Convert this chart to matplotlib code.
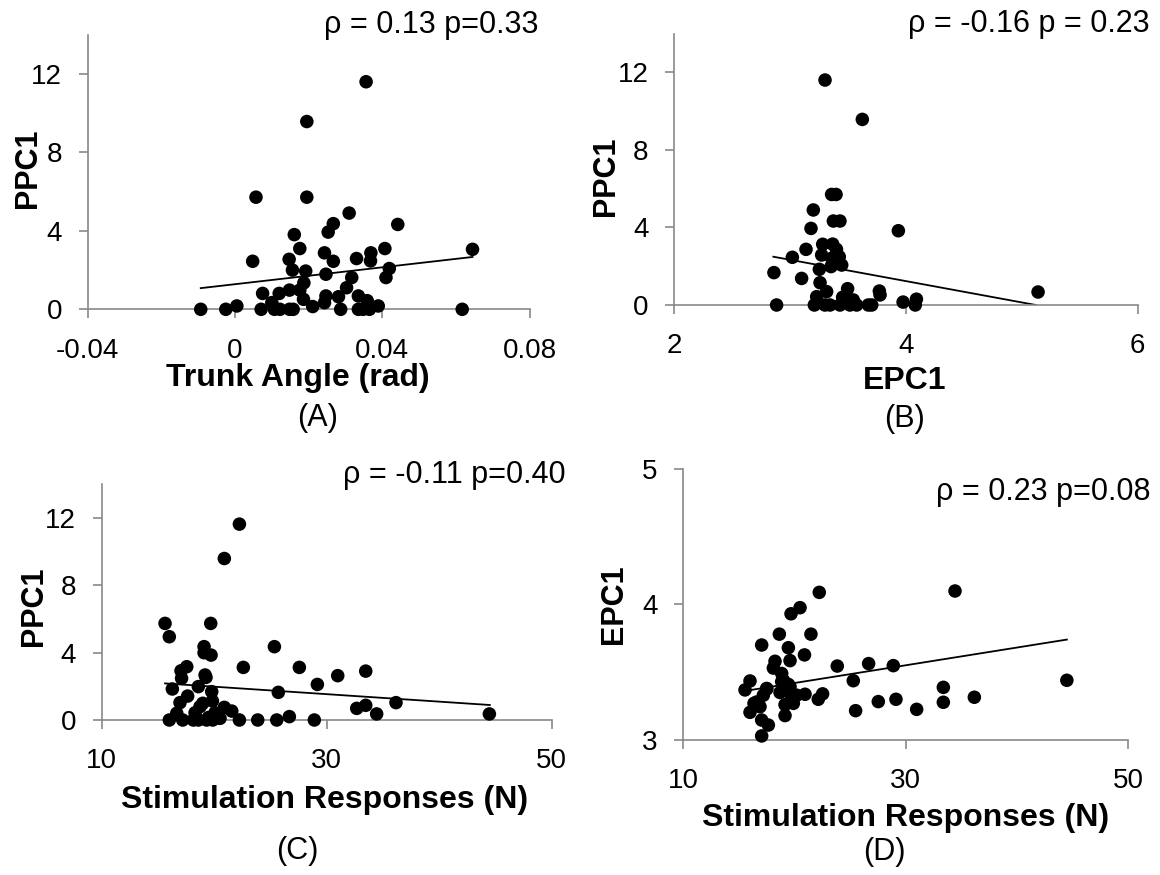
import numpy as np
import matplotlib
matplotlib.use("Agg")
import matplotlib.pyplot as plt

plt.rcParams['font.family'] = ['Liberation Sans', 'DejaVu Sans']

# ---- DATA ----
# (A) Trunk angle vs PPC1
trunk_angle = [-0.0093, -0.0025, 0.0005, 0.0057, 0.0048, 0.0071, 0.0075, 0.0100, 0.0107, 0.0120,
               0.0122, 0.0147, 0.0156, 0.0161, 0.0148, 0.0158, 0.0148, 0.0176, 0.0176, 0.0187,
               0.0192, 0.0186, 0.0195, 0.0195, 0.0211, 0.0243, 0.0247, 0.0243, 0.0247, 0.0253,
               0.0267, 0.0267, 0.0281, 0.0287, 0.0303, 0.0317, 0.0310, 0.0330, 0.0335, 0.0335,
               0.0356, 0.0348, 0.0359, 0.0365, 0.0368, 0.0369, 0.0389, 0.0407, 0.0410, 0.0419,
               0.0442, 0.0617, 0.0645]
ppc1_a = [0, 0, 0.17, 5.72, 2.45, 0, 0.81, 0.34, 0, 0.81,
          0, 2.55, 2.0, 3.81, 0, 0, 0.98, 3.1, 0.98, 1.35,
          1.95, 0.51, 5.72, 9.58, 0.14, 2.88, 1.79, 0.34, 0.68, 3.94,
          4.37, 2.45, 0.64, 0, 1.1, 1.62, 4.91, 2.59, 0.68, 0,
          11.61, 0, 0.44, 0, 2.47, 2.88, 0.17, 3.1, 1.62, 2.08,
          4.33, 0, 3.06]
trend_a_x = [-0.0093, 0.0645]
trend_a_y = [1.08, 2.67]

# (B) EPC1 vs PPC1
epc1_b = [2.883, 2.86, 3.019, 3.099, 3.137, 3.18, 3.2, 3.209, 3.229, 3.258,
          3.252, 3.272, 3.281, 3.301, 3.30, 3.315, 3.344, 3.353, 3.358, 3.367,
          3.358, 3.396, 3.373, 3.43, 3.40, 3.424, 3.445, 3.43, 3.453, 3.496,
          3.516, 3.545, 3.574, 3.623, 3.675, 3.704, 3.77, 3.776, 3.934, 3.975,
          4.09, 4.08, 5.14]
ppc1_b = [0, 1.67, 2.46, 1.37, 2.87, 3.95, 4.9, 0, 0.43, 1.15,
          1.84, 2.58, 3.13, 11.6, 0, 0.69, 0, 1.98, 2.41, 3.14,
          5.7, 5.7, 4.33, 4.33, 2.87, 2.49, 2.06, 0, 0.4, 0.84,
          0, 0.26, 0, 9.57, 0, 0, 0.72, 0.52, 3.83, 0.15,
          0.3, 0, 0.67]
trend_b_x = [2.855, 5.12]
trend_b_y = [2.49, 0.0]

# (C) Stimulation responses vs PPC1
stim_c = [15.63, 16.01, 16.01, 16.28, 16.67, 16.96, 17.2, 17.05, 17.1, 17.56,
          17.64, 18.15, 18.3, 18.59, 18.74, 18.98, 19.1, 19.1, 19.19, 19.27,
          19.33, 19.69, 19.72, 19.78, 19.84, 19.87, 20.07, 20.52, 20.9, 20.9,
          21.56, 22.24, 22.24, 22.59, 23.87, 25.35, 25.56, 25.7, 26.68, 27.57,
          28.9, 29.17, 30.98, 32.67, 33.47, 33.47, 34.44, 36.16, 44.46, 18.6, 19.5]
ppc1_c = [5.73, 4.94, 0, 1.84, 0.4, 1.03, 0, 2.92, 2.47, 3.16,
          1.42, 0, 0.43, 1.98, 0.79, 0.99, 4.35, 3.99, 2.67, 2.53,
          0, 5.73, 3.85, 1.68, 1.13, 0, 0.43, 0.1, 0.75, 9.58,
          0.53, 11.62, 0, 3.12, 0, 4.35, 0, 1.64, 0.2, 3.12,
          0, 2.11, 2.63, 0.69, 0.87, 2.9, 0.36, 1.03, 0.36, 0, 0.15]
trend_c_x = [15.63, 44.5]
trend_c_y = [2.17, 0.89]

# (D) Stimulation responses vs EPC1
stim_d = [15.55, 16.0, 16.0, 16.36, 17.05, 17.05, 17.05, 17.65, 17.2, 17.5,
          18.25, 18.1, 18.64, 18.85, 18.7, 19.0, 19.15, 19.15, 19.45, 19.6,
          19.6, 19.69, 19.75, 19.9, 20.2, 20.5, 20.9, 20.95, 21.48, 22.23,
          22.14, 22.53, 23.85, 25.29, 25.5, 26.67, 27.54, 28.89, 29.13, 30.99,
          33.39, 33.39, 34.44, 36.18, 44.5, 16.6, 16.9, 17.5, 18.85, 19.45]
epc1_d = [3.369, 3.435, 3.204, 3.27, 3.70, 3.147, 3.03, 3.11, 3.33, 3.376,
          3.58, 3.53, 3.78, 3.49, 3.35, 3.44, 3.26, 3.18, 3.68, 3.585,
          3.393, 3.93, 3.32, 3.27, 3.33, 3.975, 3.627, 3.337, 3.78, 4.088,
          3.30, 3.34, 3.545, 3.437, 3.216, 3.563, 3.283, 3.548, 3.30, 3.226,
          3.388, 3.278, 4.098, 3.315, 3.44, 3.28, 3.245, 3.38, 3.43, 3.41]
trend_d_x = [15.8, 44.5]
trend_d_y = [3.365, 3.74]

W, H = 1160, 875
fig = plt.figure(figsize=(W / 100, H / 100), dpi=100)

AXIS_GREY = '#898989'
TICK_FS = 20
XLABEL_FS = 23
YLABEL_FS = 22
NOTE_FS = 22


def px_axes(left, right, bottom, top):
    return fig.add_axes([left / W, 1 - bottom / H, (right - left) / W, (bottom - top) / H])


def ftext(x, y, s, **kw):
    fig.text(x / W, 1 - y / H, s, **kw)


def panel(ax, x, y, tx, ty, xlim, ylim, xticks, yticks, xticklabels=None):
    ax.scatter(x, y, s=95, color='black', edgecolors='none', zorder=3, clip_on=False)
    # linear trendline as drawn in the figure
    ax.plot(tx, ty, color='black', lw=1.3, zorder=2)
    ax.set_xlim(*xlim)
    ax.set_ylim(*ylim)
    ax.set_xticks(xticks)
    ax.set_yticks(yticks)
    if xticklabels is not None:
        ax.set_xticklabels(xticklabels)
    for side in ['top', 'right']:
        ax.spines[side].set_visible(False)
    for side in ['left', 'bottom']:
        ax.spines[side].set_color(AXIS_GREY)
        ax.spines[side].set_linewidth(1.2)
    ax.tick_params(direction='out', length=6.5, width=1.2, color=AXIS_GREY,
                   labelsize=TICK_FS)
    ax.tick_params(axis='x', pad=14)
    ax.tick_params(axis='y', pad=12)


# 1) Trunk angle
axA = px_axes(87.7, 529.6, 309.3, 34.9)
panel(axA, trunk_angle, ppc1_a, trend_a_x, trend_a_y, (-0.04, 0.08), (0, 14),
      [-0.04, 0, 0.04, 0.08], [0, 4, 8, 12], ['-0.04', '0', '0.04', '0.08'])
# 2) EPC1
axB = px_axes(674.3, 1137.7, 305, 33.5)
panel(axB, epc1_b, ppc1_b, trend_b_x, trend_b_y, (2, 6), (0, 14), [2, 4, 6], [0, 4, 8, 12])
# 3) Stim vs PPC1
axC = px_axes(101.7, 551.7, 720, 484)
panel(axC, stim_c, ppc1_c, trend_c_x, trend_c_y, (10, 50), (0, 14), [10, 30, 50], [0, 4, 8, 12])
# 4) Stim vs EPC1
axD = px_axes(683.3, 1128, 740, 468.6)
panel(axD, stim_d, epc1_d, trend_d_x, trend_d_y, (10, 50), (3, 5), [10, 30, 50], [3, 4, 5])

# ---- TEXT ----
ftext(538, 25, 'ρ = 0.13 p=0.33', fontsize=NOTE_FS, ha='right', va='center')
ftext(1150, 24, 'ρ = -0.16 p = 0.23', fontsize=NOTE_FS, ha='right', va='center')
ftext(566, 475, 'ρ = -0.11 p=0.40', fontsize=NOTE_FS, ha='right', va='center')
ftext(1150, 492, 'ρ = 0.23 p=0.08', fontsize=NOTE_FS, ha='right', va='center')

ftext(28, 168, 'PPC1', fontsize=YLABEL_FS, fontweight='bold', rotation=90, ha='center', va='center')
ftext(606, 176, 'PPC1', fontsize=YLABEL_FS, fontweight='bold', rotation=90, ha='center', va='center')
ftext(34, 606, 'PPC1', fontsize=YLABEL_FS, fontweight='bold', rotation=90, ha='center', va='center')
ftext(614, 604, 'EPC1', fontsize=YLABEL_FS, fontweight='bold', rotation=90, ha='center', va='center')

ftext(298, 378, 'Trunk Angle (rad)', fontsize=XLABEL_FS, fontweight='bold', ha='center', va='center')
ftext(905, 381, 'EPC1', fontsize=XLABEL_FS, fontweight='bold', ha='center', va='center')
ftext(325, 800, 'Stimulation Responses (N)', fontsize=XLABEL_FS, fontweight='bold', ha='center', va='center')
ftext(906, 818, 'Stimulation Responses (N)', fontsize=XLABEL_FS, fontweight='bold', ha='center', va='center')

ftext(318, 418, '(A)', fontsize=NOTE_FS, ha='center', va='center')
ftext(905, 419, '(B)', fontsize=NOTE_FS, ha='center', va='center')
ftext(297, 851, '(C)', fontsize=NOTE_FS, ha='center', va='center')
ftext(884, 852, '(D)', fontsize=NOTE_FS, ha='center', va='center')

fig.savefig('out.png', dpi=100, facecolor='white')
